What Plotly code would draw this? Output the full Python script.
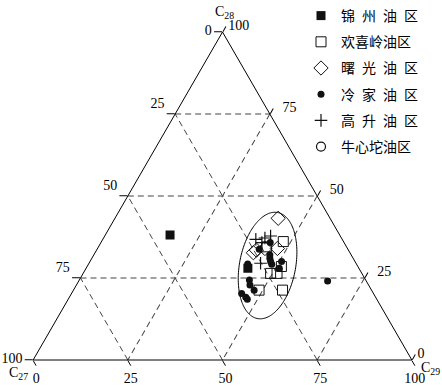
import numpy as np
import plotly.graph_objects as go

# Legend names
sp = "\u2002"
names = ["锦" + sp + "州" + sp + "油" + sp + "区", "欢喜岭油区",
         "曙" + sp + "光" + sp + "油" + sp + "区", "冷" + sp + "家" + sp + "油" + sp + "区",
         "高" + sp + "升" + sp + "油" + sp + "区", "牛心坨油区"]

# Data (C28, C27, C29)
jz_c28 = [38.1, 28.0]
jz_c27 = [44.8, 29.3]
jz_c29 = [17.1, 42.7]

hxl_c28 = [36.1, 28.5, 26.4, 26.4, 21.3, 21.3, 34.5]
hxl_c27 = [15.9, 20.2, 24.1, 22.4, 29.7, 23.5, 21.1]
hxl_c29 = [48.0, 51.3, 49.5, 51.2, 49.0, 55.2, 44.4]

sg_c28 = [43.2, 32.7, 34.0, 34.0, 33.5]
sg_c27 = [13.7, 25.5, 21.8, 18.5, 24.3]
sg_c29 = [43.1, 41.8, 44.2, 47.5, 42.2]

lj_c28 = [35.8, 33.8, 32.0, 31.0, 30.0, 29.2, 30.0, 28.0, 29.3, 24.4, 22.9, 21.3, 20.3, 19.1, 18.5, 24.1]
lj_c27 = [19.5, 23.4, 21.5, 22.0, 22.3, 22.4, 19.4, 21.0, 28.7, 30.7, 31.3, 31.0, 34.8, 34.3, 34.2, 10.2]
lj_c29 = [44.7, 42.8, 46.5, 47.0, 47.7, 48.4, 50.6, 51.0, 42.0, 44.9, 45.8, 47.7, 44.9, 46.6, 47.3, 65.7]

gs_c28 = [36.8, 37.8, 35.8, 29.5, 37.2]
gs_c27 = [22.8, 18.4, 21.7, 25.2, 20.2]
gs_c29 = [40.4, 43.8, 42.5, 45.3, 42.6]

nxt_c28 = [None]
nxt_c27 = [None]
nxt_c29 = [None]

tick_vals = [0, 25, 50, 75, 100]
tick_text_rev = ["100", "75", "50", "25", "0"]
vertex_titles = ["C<sub>28</sub>", "C<sub>27</sub>", "C<sub>29</sub>"]

# Ellipse (center in ternary %, semi-axes as fraction of side, rotation deg)
ell_center = (28.8, 23.7, 47.5)
ell_major = 0.1425
ell_minor = 0.074
ell_angle = 79.2

serif = "Liberation Serif, Times New Roman, Noto Sans CJK SC, serif"

fig = go.Figure()

# ellipse
s3 = np.sqrt(3) / 2
ca, cb, cc = [v / 100 for v in ell_center]
X0 = cc + ca / 2
Y0 = ca * s3
t = np.linspace(0, 2 * np.pi, 200)
th = np.deg2rad(ell_angle)
ex = X0 + ell_major * np.cos(t) * np.cos(th) - ell_minor * np.sin(t) * np.sin(th)
ey = Y0 + ell_major * np.cos(t) * np.sin(th) + ell_minor * np.sin(t) * np.cos(th)
ea = ey / s3
ec = ex - ea / 2
eb = 1 - ea - ec
fig.add_trace(go.Scatterternary(a=ea * 100, b=eb * 100, c=ec * 100, mode="lines",
                                line=dict(color="black", width=1), showlegend=False,
                                hoverinfo="skip"))

series = [
    (names[0], jz_c28, jz_c27, jz_c29, dict(symbol="square", size=9, color="#111")),
    (names[1], hxl_c28, hxl_c27, hxl_c29, dict(symbol="square-open", size=10, color="#111", line=dict(width=1))),
    (names[2], sg_c28, sg_c27, sg_c29, dict(symbol="diamond-open", size=11, color="#111", line=dict(width=1))),
    (names[3], lj_c28, lj_c27, lj_c29, dict(symbol="circle", size=7, color="#111")),
    (names[4], gs_c28, gs_c27, gs_c29, dict(symbol="cross-thin", size=9, color="#111", line=dict(width=1.2, color="#111"))),
    (names[5], nxt_c28, nxt_c27, nxt_c29, dict(symbol="circle-open", size=9, color="#111", line=dict(width=1.2))),
]
for i, (nm, a, b, c, mk) in enumerate(series):
    fig.add_trace(go.Scatterternary(a=a, b=b, c=c, mode="markers", name=nm, marker=mk,
                                    legendgroup="g%d" % i, showlegend=True))

ax_common = dict(min=0, linecolor="black", linewidth=1, showgrid=True, gridcolor="#444",
                 griddash="6px,4px", gridwidth=1, ticks="outside", ticklen=6, tickcolor="black",
                 tickvals=tick_vals, ticktext=tick_text_rev, title=dict(text=""),
                 tickfont=dict(family=serif, size=14, color="black"))
# left-edge labels of the inner ticks sit a little above their tick
a_ticktext = [tick_text_rev[0]] + [s + "<br>\u00a0" for s in tick_text_rev[1:4]] + [tick_text_rev[4]]
# right-edge labels of the inner ticks sit a little further out
c_ticktext = [tick_text_rev[0]] + ["\u2002" + s for s in tick_text_rev[1:4]] + [tick_text_rev[4]]

W, H = 442, 390
fig.update_layout(
    width=W, height=H,
    margin=dict(l=0, r=0, t=0, b=0, autoexpand=False),
    paper_bgcolor="white",
    font=dict(family=serif, color="black"),
    ternary=dict(
        sum=100,
        bgcolor="white",
        domain=dict(x=[33 / W, 412 / W], y=[1 - 360 / H, 1 - 32 / H]),
        aaxis={**ax_common, "ticktext": a_ticktext, "ticklen": 8},
        baxis=ax_common,
        caxis={**ax_common, "ticktext": c_ticktext},
    ),
    legend=dict(x=301 / W, y=1.0, xanchor="left", yanchor="top", bgcolor="rgba(0,0,0,0)",
                font=dict(family=serif, size=14, color="black"), tracegroupgap=5),
    showlegend=True,
)

# vertex titles
title_pos = [(224, 12), (18, 373), (430, 368)]
for txt, (px, py) in zip(vertex_titles, title_pos):
    fig.add_annotation(text=txt, xref="paper", yref="paper", x=px / W, y=1 - py / H,
                       xanchor="center", yanchor="middle", showarrow=False,
                       font=dict(family=serif, size=14, color="black"))

fig.write_html("out.html", config={"displayModeBar": False},
               post_script="document.body.style.margin='0';")
